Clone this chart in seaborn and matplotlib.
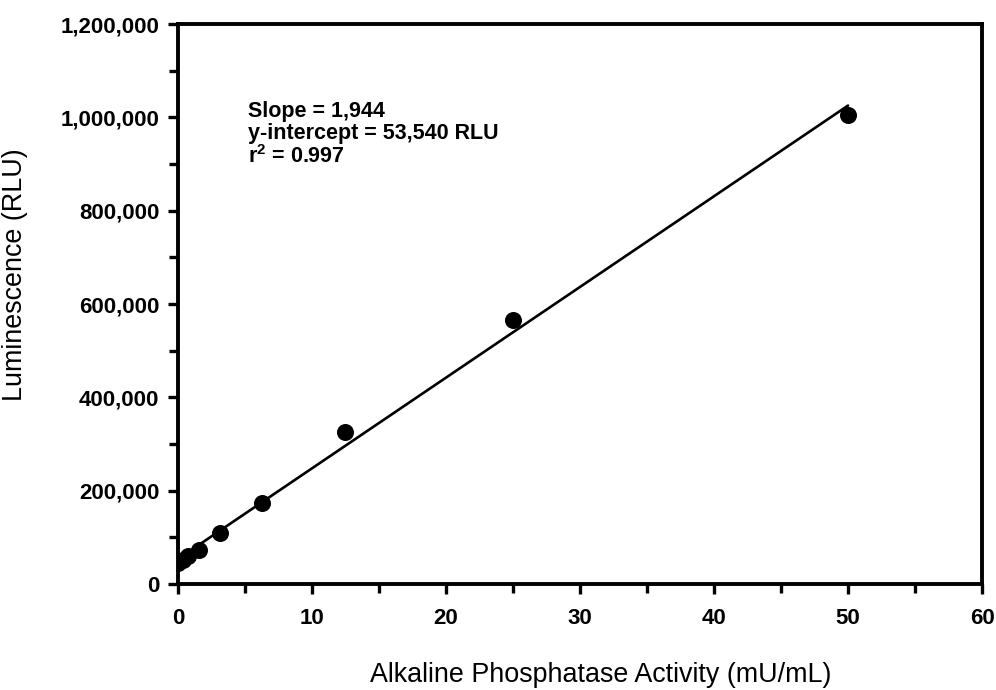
import matplotlib
matplotlib.use("Agg")
import matplotlib.pyplot as plt
import seaborn as sns
import pandas as pd
from matplotlib.ticker import MultipleLocator, FuncFormatter

# Data
activity = [0, 0.39, 0.78, 1.56, 3.13, 6.25, 12.5, 25, 50]
luminescence = [45000, 52000, 60000, 73000, 109000, 174000, 326000, 566000, 1005000]
fit_x = [0, 50]
fit_y = [53540, 1025540]
x_ticks = [0, 10, 20, 30, 40, 50, 60]
y_ticks = [0, 200000, 400000, 600000, 800000, 1000000, 1200000]

sns.set_theme(style="ticks")
plt.rcParams['font.family'] = ['Liberation Sans', 'DejaVu Sans']
plt.rcParams['mathtext.fontset'] = 'custom'
plt.rcParams['mathtext.rm'] = 'Liberation Sans'
plt.rcParams['mathtext.bf'] = 'Liberation Sans:bold'

fig = plt.figure(figsize=(9.96, 6.9), dpi=100)
ax = fig.add_axes([0.1787, 0.1536, 0.986 - 0.1787, 0.965 - 0.1536])

df = pd.DataFrame({"x": activity, "y": luminescence})
fit = pd.DataFrame({"x": fit_x, "y": fit_y})
sns.lineplot(data=fit, x="x", y="y", ax=ax, color="black", linewidth=1.9)
sns.scatterplot(data=df, x="x", y="y", ax=ax, color="black", s=150,
                edgecolor="black", linewidth=0, zorder=3)

ax.set_xlim(0, 60)
ax.set_ylim(0, 1200000)
ax.set_xticks(x_ticks)
ax.set_yticks(y_ticks)
ax.xaxis.set_minor_locator(MultipleLocator(5))
ax.yaxis.set_minor_locator(MultipleLocator(100000))
ax.yaxis.set_major_formatter(FuncFormatter(lambda v, p: f"{int(v):,}"))

for s in ax.spines.values():
    s.set_linewidth(2.8)
    s.set_color("black")
    s.set_visible(True)

ax.tick_params(axis="both", which="major", direction="out", length=7.5, width=2.4,
               labelsize=16, colors="black")
ax.tick_params(axis="x", which="major", pad=9.5)
ax.tick_params(axis="y", which="major", pad=6)
ax.tick_params(axis="both", which="minor", direction="out", length=6.5, width=2.4, colors="black")
for lbl in ax.get_xticklabels() + ax.get_yticklabels():
    lbl.set_fontweight("bold")

ax.set_xlabel("Alkaline Phosphatase Activity (mU/mL)", fontsize=19.4, color="black")
ax.set_ylabel("Luminescence (RLU)", fontsize=19.4, color="black")
ax.xaxis.set_label_coords(0.526, -0.139)
ax.yaxis.set_label_coords(-0.186, 0.552)

ax.text(0.087, 0.862, "Slope = 1,944\ny-intercept = 53,540 RLU\nr$^{\\mathbf{2}}$ = 0.997",
        transform=ax.transAxes, fontsize=15.5, fontweight="bold", va="top", ha="left",
        linespacing=1.05, color="black")

fig.savefig("out.png", dpi=100)
